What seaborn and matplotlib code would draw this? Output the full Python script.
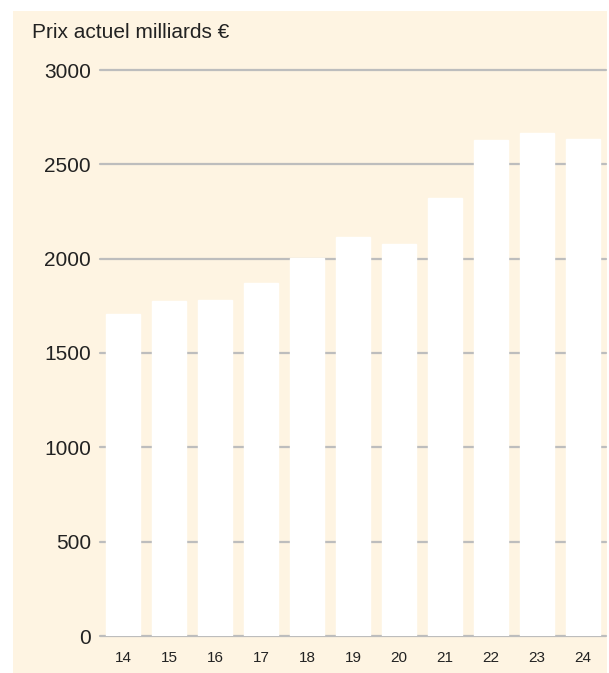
import matplotlib
matplotlib.use("Agg")
import matplotlib.pyplot as plt
import seaborn as sns
import pandas as pd
from matplotlib.patches import Rectangle

# Données
annees = ["14", "15", "16", "17", "18", "19", "20", "21", "22", "23", "24"]
prix_milliards = [1706, 1775, 1783, 1873, 2002, 2116, 2079, 2322, 2628, 2665, 2634]
yticks = [0, 500, 1000, 1500, 2000, 2500, 3000]

CREAM = "#FEF4E2"
GRID = "#BDBDBD"
TEXT = "#222222"

sns.set_theme(style="white")
plt.rcParams["font.family"] = ["Liberation Sans", "DejaVu Sans"]

W, H = 609, 673
fig = plt.figure(figsize=(W / 100, H / 100), dpi=100)
fig.patch.set_facecolor("white")
# fond crème derrière le graphique
fig.patches.append(Rectangle((13 / W, 0), (607 - 13) / W, 1 - 11 / H,
                             transform=fig.transFigure, facecolor=CREAM,
                             edgecolor="none", zorder=-10))

ax = fig.add_axes([100 / W, 1 - 636 / H, (606 - 100) / W, (636 - 70) / H])
ax.set_facecolor("none")

df = pd.DataFrame({"annee": annees, "prix": prix_milliards})
sns.barplot(data=df, x="annee", y="prix", color="white", saturation=1,
            width=0.74, ax=ax, zorder=3)

ax.set_xlim(-0.5, len(annees) - 0.5)
ax.set_ylim(0, 3000)
ax.set_yticks(yticks)
ax.set_yticklabels([str(v) for v in yticks])
ax.set_xlabel("")
ax.set_ylabel("")
for s in ax.spines.values():
    s.set_visible(False)

ax.grid(axis="y", color=GRID, linewidth=1.6, zorder=1)
ax.grid(axis="x", visible=False)
ax.set_axisbelow(True)
for gl in ax.get_ygridlines():
    gl.set_clip_on(False)

ax.tick_params(axis="y", length=0, pad=6.5, labelsize=15, labelcolor=TEXT)
ax.tick_params(axis="x", length=0, pad=11, labelsize=11, labelcolor=TEXT)

fig.text(32 / W, 1 - 33 / H, "Prix actuel milliards €", fontsize=15,
         color=TEXT, va="center", ha="left")

fig.savefig("out.png", dpi=100)
